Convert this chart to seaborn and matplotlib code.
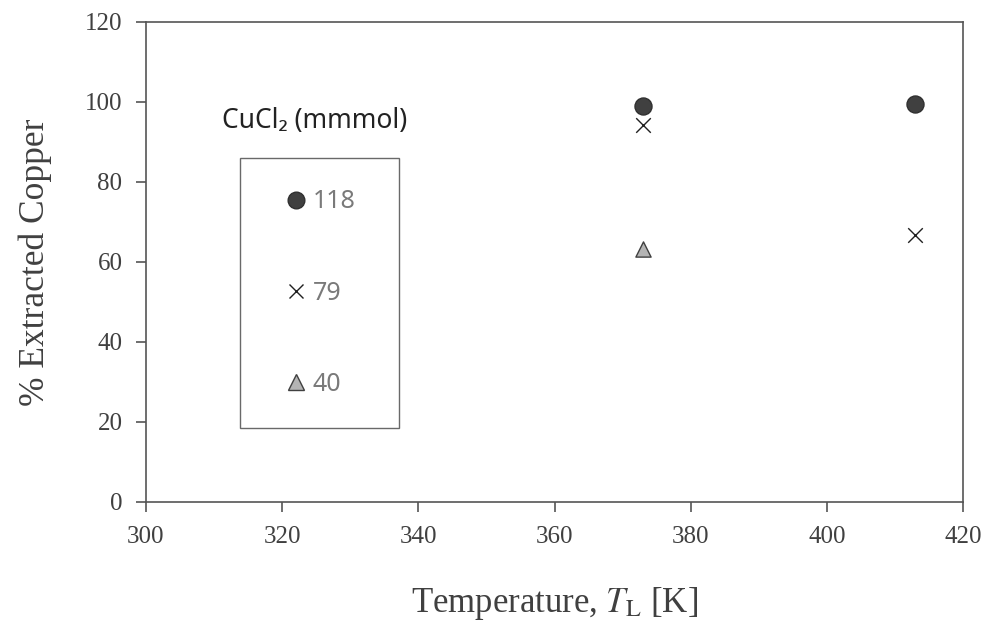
import matplotlib
matplotlib.use("Agg")
import matplotlib.pyplot as plt
import seaborn as sns
import pandas as pd
from matplotlib.lines import Line2D

# ---- data ----
temps_118 = [373, 413]
vals_118 = [99.0, 99.5]
temps_79 = [373, 413]
vals_79 = [94.2, 66.8]
temps_40 = [373]
vals_40 = [63.2]
groups = ["118", "79", "40"]

df = pd.DataFrame({
    "T": temps_118 + temps_79 + temps_40,
    "pct": vals_118 + vals_79 + vals_40,
    "CuCl2": ["118"] * len(temps_118) + ["79"] * len(temps_79) + ["40"] * len(temps_40),
})

sns.set_theme(style="white")
plt.rcParams["mathtext.fontset"] = "stix"
plt.rcParams["font.family"] = ["Liberation Serif", "DejaVu Serif"]

fig = plt.figure(figsize=(9.82, 6.21), dpi=100)
ax = fig.add_axes([146 / 982, 1 - 502 / 621, 817 / 982, 480 / 621])

styles = {
    "118": dict(marker="o", s=150, color="#404040", edgecolor="#303030", linewidth=1.0),
    "79": dict(marker="x", s=110, color="#202020", linewidth=1.0),
    "40": dict(marker="^", s=120, color="#b4b4b4", edgecolor="#404040", linewidth=1.0),
}
for g in groups:
    sub = df[df["CuCl2"] == g]
    sns.scatterplot(data=sub, x="T", y="pct", ax=ax, legend=False, zorder=3, **styles[g])

ax.set_xlim(300, 420)
ax.set_ylim(0, 120)
ax.set_xticks(range(300, 421, 20))
ax.set_yticks(range(0, 121, 20))

for sp in ax.spines.values():
    sp.set_color("#555555")
    sp.set_linewidth(1.2)
ax.tick_params(axis="both", which="major", direction="out", length=7, width=1.2,
               color="#555555", labelsize=18, labelcolor="#404040", pad=10,
               bottom=True, left=True)

ax.set_xlabel("Temperature, $T_\\mathrm{L}$ [K]", fontsize=25, color="#404040", labelpad=27)
ax.set_ylabel("% Extracted Copper", fontsize=25.5, color="#404040", labelpad=24)

# ---- legend ----
handles = [
    Line2D([], [], linestyle="none", marker="o", markersize=12, markerfacecolor="#404040",
           markeredgecolor="#303030", markeredgewidth=1.0),
    Line2D([], [], linestyle="none", marker="x", markersize=10.5, color="#202020",
           markeredgewidth=1.0),
    Line2D([], [], linestyle="none", marker="^", markersize=11, markerfacecolor="#b4b4b4",
           markeredgecolor="#404040", markeredgewidth=1.0),
]
leg = ax.legend(handles, groups, loc="lower left",
                bbox_to_anchor=(94 / 817, 74 / 480, 159 / 817, 271 / 480), mode="expand",
                prop={"family": ["Noto Sans", "DejaVu Sans"], "size": 18},
                frameon=True, fancybox=False, borderpad=1.25, labelspacing=2.65,
                handlelength=2.0, handletextpad=-0.35, borderaxespad=0)
leg.get_frame().set_edgecolor("#444444")
leg.get_frame().set_linewidth(1.0)
for t in leg.get_texts():
    t.set_color("#7a7a7a")

ax.text((314.5 - 146) / 817, (502 - 121) / 480, "CuCl\u2082 (mmmol)", transform=ax.transAxes,
        ha="center", va="center", fontsize=19, color="#222222",
        family=["Noto Sans", "DejaVu Sans"])

fig.savefig("out.png", dpi=100)
